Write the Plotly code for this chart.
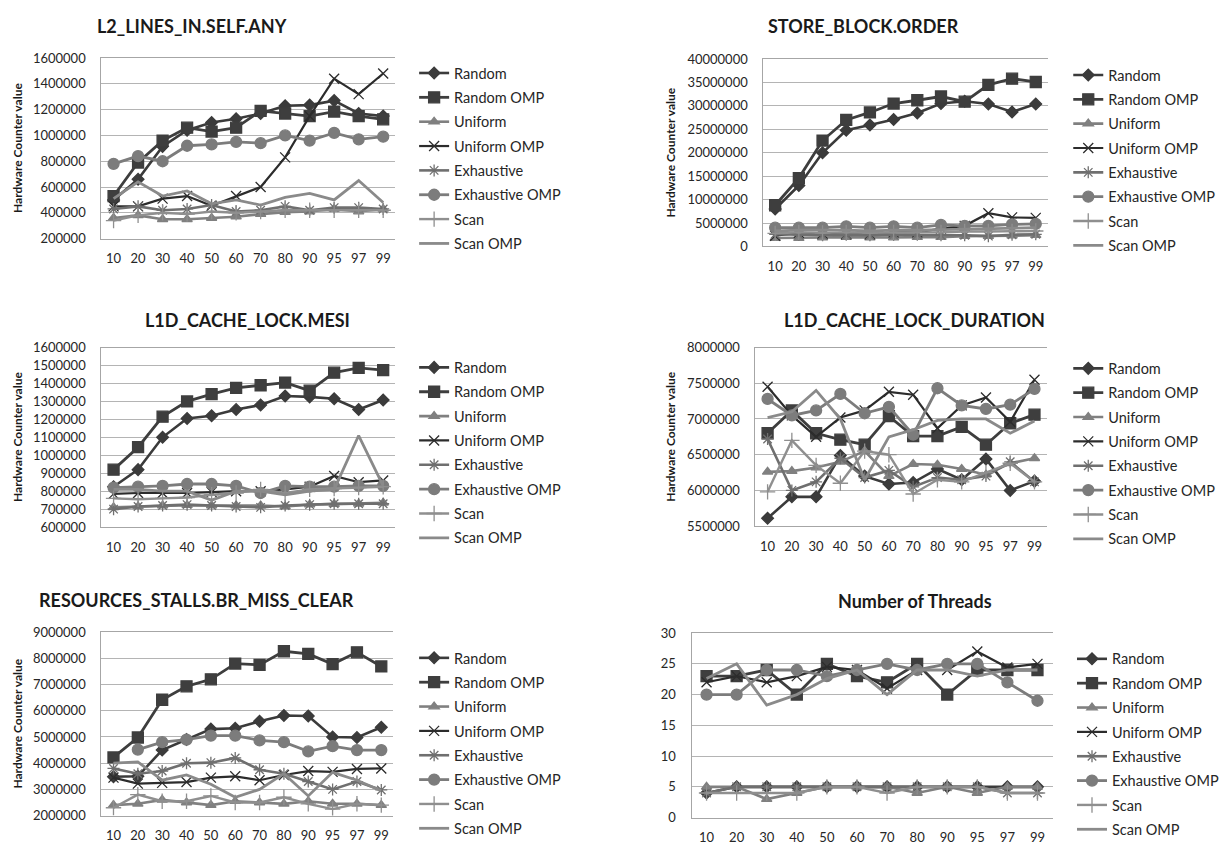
import plotly.graph_objects as go

# ---------------------------------------------------------------- data
steps = ["10", "20", "30", "40", "50", "60", "70", "80", "90", "95", "97", "99"]
series_names = ["Random", "Random OMP", "Uniform", "Uniform OMP",
                "Exhaustive", "Exhaustive OMP", "Scan", "Scan OMP"]

# L2_LINES_IN.SELF.ANY
l2_random = [500000, 660000, 915000, 1040000, 1100000, 1130000, 1170000, 1230000, 1235000, 1270000, 1170000, 1150000]
l2_random_omp = [530000, 790000, 960000, 1060000, 1030000, 1060000, 1190000, 1170000, 1150000, 1185000, 1150000, 1125000]
l2_uniform = [360000, 380000, 350000, 350000, 360000, 370000, 390000, 405000, 410000, 430000, 410000, 430000]
l2_uniform_omp = [450000, 450000, 510000, 530000, 455000, 530000, 600000, 830000, 1150000, 1440000, 1320000, 1480000]
l2_exhaustive = [430000, 450000, 420000, 430000, 460000, 410000, 420000, 450000, 420000, 440000, 440000, 430000]
l2_exhaustive_omp = [780000, 840000, 800000, 920000, 930000, 950000, 940000, 1000000, 960000, 1020000, 970000, 990000]
l2_scan = [340000, 380000, 400000, 390000, 410000, 400000, 410000, 420000, 420000, 420000, 420000, 420000]
l2_scan_omp = [510000, 640000, 530000, 570000, 470000, 500000, 460000, 520000, 550000, 500000, 650000, 480000]

# STORE_BLOCK.ORDER
sb_random = [8000000, 13000000, 20000000, 24800000, 25900000, 27100000, 28500000, 30500000, 31000000, 30400000, 28700000, 30400000]
sb_random_omp = [8800000, 14600000, 22600000, 27000000, 28600000, 30500000, 31200000, 32000000, 30900000, 34500000, 35800000, 35100000]
sb_uniform = [1800000, 1800000, 1900000, 2000000, 1900000, 1900000, 2000000, 2000000, 2200000, 2200000, 2300000, 2400000]
sb_uniform_omp = [2300000, 2900000, 2700000, 2600000, 2600000, 3000000, 3000000, 3800000, 4400000, 7100000, 6200000, 6100000]
sb_exhaustive = [2600000, 2500000, 2400000, 2500000, 2400000, 2500000, 2500000, 2400000, 2400000, 2200000, 2500000, 2600000]
sb_exhaustive_omp = [4000000, 4000000, 4000000, 4300000, 4000000, 4300000, 4000000, 4600000, 4400000, 4400000, 4700000, 4800000]
sb_scan = [2800000, 3000000, 2900000, 3000000, 2900000, 3000000, 3000000, 3000000, 3200000, 3200000, 3200000, 3300000]
sb_scan_omp = [3300000, 3500000, 3500000, 3500000, 3300000, 3500000, 3500000, 3600000, 3600000, 3800000, 3900000, 4000000]

# L1D_CACHE_LOCK.MESI
mesi_random = [825000, 920000, 1100000, 1205000, 1220000, 1255000, 1280000, 1330000, 1325000, 1315000, 1255000, 1308000]
mesi_random_omp = [920000, 1045000, 1215000, 1300000, 1340000, 1375000, 1390000, 1405000, 1360000, 1460000, 1487000, 1474000]
mesi_uniform = [710000, 715000, 720000, 722000, 720000, 720000, 720000, 715000, 725000, 728000, 730000, 735000]
mesi_uniform_omp = [785000, 790000, 790000, 790000, 795000, 800000, 800000, 810000, 825000, 885000, 850000, 860000]
mesi_exhaustive = [700000, 715000, 720000, 725000, 720000, 715000, 710000, 720000, 725000, 730000, 730000, 730000]
mesi_exhaustive_omp = [820000, 825000, 830000, 840000, 840000, 830000, 790000, 830000, 825000, 825000, 830000, 830000]
mesi_scan = [760000, 755000, 760000, 765000, 780000, 790000, 810000, 790000, 810000, 815000, 820000, 825000]
mesi_scan_omp = [810000, 810000, 800000, 800000, 750000, 800000, 800000, 780000, 800000, 810000, 1110000, 830000]

# L1D_CACHE_LOCK_DURATION
dur_random = [5610000, 5910000, 5910000, 6490000, 6200000, 6090000, 6110000, 6300000, 6150000, 6440000, 6000000, 6130000]
dur_random_omp = [6800000, 7120000, 6800000, 6710000, 6640000, 7040000, 6760000, 6760000, 6890000, 6640000, 6940000, 7060000]
dur_uniform = [6260000, 6270000, 6320000, 6400000, 6550000, 6200000, 6370000, 6360000, 6300000, 6220000, 6380000, 6450000]
dur_uniform_omp = [7450000, 7050000, 6750000, 7020000, 7120000, 7380000, 7340000, 6870000, 7190000, 7300000, 6960000, 7550000]
dur_exhaustive = [6720000, 6000000, 6120000, 6450000, 6180000, 6280000, 6050000, 6180000, 6150000, 6200000, 6400000, 6120000]
dur_exhaustive_omp = [7280000, 7050000, 7120000, 7350000, 7080000, 7170000, 6780000, 7430000, 7190000, 7140000, 7200000, 7420000]
dur_scan = [5980000, 6700000, 6350000, 6100000, 6550000, 6500000, 5950000, 6150000, 6120000, 6250000, 6380000, 6120000]
dur_scan_omp = [7020000, 7100000, 7400000, 7000000, 6150000, 6750000, 6850000, 6980000, 7000000, 7000000, 6800000, 6970000]

# RESOURCES_STALLS.BR_MISS_CLEAR
br_random = [3480000, 3500000, 4500000, 4900000, 5300000, 5330000, 5600000, 5820000, 5800000, 5000000, 4980000, 5370000]
br_random_omp = [4220000, 4980000, 6420000, 6930000, 7200000, 7800000, 7750000, 8270000, 8170000, 7780000, 8230000, 7690000]
br_uniform = [2400000, 2450000, 2600000, 2500000, 2400000, 2550000, 2500000, 2450000, 2550000, 2450000, 2450000, 2400000]
br_uniform_omp = [3450000, 3220000, 3250000, 3280000, 3450000, 3500000, 3350000, 3550000, 3700000, 3670000, 3780000, 3800000]
br_exhaustive = [3800000, 3600000, 3700000, 4000000, 4020000, 4200000, 3750000, 3600000, 3300000, 3000000, 3300000, 2980000]
br_exhaustive_omp = [None, 4520000, 4800000, 4900000, 5050000, 5050000, 4870000, 4800000, 4450000, 4650000, 4500000, 4500000]
br_scan = [2300000, 2800000, 2550000, 2550000, 2750000, 2500000, 2500000, 2700000, 2450000, 2250000, 2450000, 2400000]
br_scan_omp = [4000000, 4050000, 3350000, 3550000, 3200000, 2700000, 3000000, 3600000, 2750000, 3650000, 3350000, 2950000]

# Number of Threads
thr_random = [4, 5, 5, 5, 5, 5, 5, 5, 5, 5, 5, 5]
thr_random_omp = [23, 23, 24, 20, 25, 23, 22, 25, 20, 24, 24, 24]
thr_uniform = [5, 5, 3, 4, 5, 5, 5, 4, 5, 4, 5, 5]
thr_uniform_omp = [22, 23, 22, 23, 24.5, 24, 21, 24, 24, 27, 24.4, 25]
thr_exhaustive = [4, 5, 5, 5, 5, 5, 5, 5, 5, 5, 4, 4]
thr_exhaustive_omp = [20, 20, 24, 24, 23, 24, 25, 24, 25, 25, 22, 19]
thr_scan = [4, 4, 4, 4, 5, 5, 4, 5, 5, 5, 4, 4]
thr_scan_omp = [22.6, 25, 18.3, 20, 22.6, 24, 20, 24, 24, 23, 24, 24]

# ---------------------------------------------------------------- styling
W, H = 1224, 856
FONT = "Lato, 'Open Sans', sans-serif"

series_style = {
    "Random":         dict(color="#3b3b3b", symbol="diamond",         size=9,  width=2.6),
    "Random OMP":     dict(color="#3e3e3e", symbol="square",          size=11, width=2.8),
    "Uniform":        dict(color="#808080", symbol="triangle-up",     size=9,  width=2.6),
    "Uniform OMP":    dict(color="#2c2c2c", symbol="x-thin-open",     size=10, width=2.2),
    "Exhaustive":     dict(color="#6f6f6f", symbol="asterisk-open",   size=10, width=2.6),
    "Exhaustive OMP": dict(color="#7c7c7c", symbol="circle",          size=11, width=2.8),
    "Scan":           dict(color="#8f8f8f", symbol="cross-thin-open", size=11, width=2.4),
    "Scan OMP":       dict(color="#8a8a8a", symbol=None,              size=0,  width=2.8),
}

panels = [
    dict(title="L2_LINES_IN.SELF.ANY",
         data=[l2_random, l2_random_omp, l2_uniform, l2_uniform_omp,
               l2_exhaustive, l2_exhaustive_omp, l2_scan, l2_scan_omp],
         yrange=(200000, 1600000), dtick=200000,
         box=(103, 402, 51, 235), title_xy=(195, 18), ytitle_x=18,
         legend_xy=(421, 50)),
    dict(title="STORE_BLOCK.ORDER",
         data=[sb_random, sb_random_omp, sb_uniform, sb_uniform_omp,
               sb_exhaustive, sb_exhaustive_omp, sb_scan, sb_scan_omp],
         yrange=(0, 40000000), dtick=5000000,
         box=(776, 1065, 52, 243), title_xy=(878, 18), ytitle_x=682,
         legend_xy=(1086, 52)),
    dict(title="L1D_CACHE_LOCK.MESI",
         data=[mesi_random, mesi_random_omp, mesi_uniform, mesi_uniform_omp,
               mesi_exhaustive, mesi_exhaustive_omp, mesi_scan, mesi_scan_omp],
         yrange=(600000, 1600000), dtick=100000,
         box=(103, 402, 346, 529), title_xy=(252, 318), ytitle_x=18,
         legend_xy=(421, 350)),
    dict(title="L1D_CACHE_LOCK_DURATION",
         data=[dur_random, dur_random_omp, dur_uniform, dur_uniform_omp,
               dur_exhaustive, dur_exhaustive_omp, dur_scan, dur_scan_omp],
         yrange=(5500000, 8000000), dtick=500000,
         box=(768, 1064, 346, 528), title_xy=(930, 318), ytitle_x=682,
         legend_xy=(1086, 351)),
    dict(title="RESOURCES_STALLS.BR_MISS_CLEAR",
         data=[br_random, br_random_omp, br_uniform, br_uniform_omp,
               br_exhaustive, br_exhaustive_omp, br_scan, br_scan_omp],
         yrange=(2000000, 9000000), dtick=1000000,
         box=(103, 400, 636, 823), title_xy=(200, 603), ytitle_x=18,
         legend_xy=(421, 646)),
    dict(title="Number of Threads",
         data=[thr_random, thr_random_omp, thr_uniform, thr_uniform_omp,
               thr_exhaustive, thr_exhaustive_omp, thr_scan, thr_scan_omp],
         yrange=(0, 30), dtick=5,
         box=(703, 1070, 637, 825), title_xy=(930, 604), ytitle_x=None,
         legend_xy=(1090, 647)),
]

fig = go.Figure()
annotations = []

for i, p in enumerate(panels, start=1):
    sfx = "" if i == 1 else str(i)
    legend_id = "legend" if i == 1 else f"legend{i}"
    for name, values in zip(series_names, p["data"]):
        st = series_style[name]
        if st["symbol"] is None:
            mode = "lines"
            marker = dict()
        else:
            mode = "lines+markers"
            marker = dict(symbol=st["symbol"], size=st["size"], color=st["color"],
                          line=dict(color=st["color"], width=1.3))
        fig.add_trace(go.Scatter(
            x=steps, y=values, name=name, mode=mode,
            line=dict(color=st["color"], width=st["width"]),
            marker=marker,
            xaxis=f"x{sfx}", yaxis=f"y{sfx}",
            legend=legend_id, legendgroup=f"{i}-{name}",
            connectgaps=False,
        ))

    x0, x1, y0, y1 = p["box"]
    fig.update_layout({
        f"xaxis{sfx}": dict(
            domain=[x0 / W, x1 / W], anchor=f"y{sfx}", type="category",
            range=[-0.5, len(steps) - 0.5], showgrid=False,
            showline=True, linecolor="#a6a6a6", linewidth=1, mirror=True,
            ticks="", ticklabelstandoff=8,
            tickfont=dict(family=FONT, size=13, color="#262626"),
        ),
        f"yaxis{sfx}": dict(
            domain=[1 - y1 / H, 1 - y0 / H], anchor=f"x{sfx}",
            range=list(p["yrange"]), dtick=p["dtick"], tick0=p["yrange"][0],
            tickformat="d", showgrid=True, gridcolor="#b4b4b4", gridwidth=1,
            zeroline=False, showline=True, linecolor="#a6a6a6", linewidth=1,
            ticks="", ticklabelstandoff=12,
            tickfont=dict(family=FONT, size=13, color="#262626"),
        ),
        legend_id: dict(
            x=p["legend_xy"][0] / W, y=1 - p["legend_xy"][1] / H,
            xanchor="left", yanchor="top", bgcolor="rgba(0,0,0,0)",
            font=dict(family=FONT, size=14.5, color="#262626"),
            tracegroupgap=2.5, itemwidth=30, traceorder="grouped",
        ),
    })

    tx, ty = p["title_xy"]
    annotations.append(dict(
        text=f"<b>{p['title']}</b>", x=tx / W, y=1 - ty / H,
        xref="paper", yref="paper", showarrow=False,
        xanchor="center", yanchor="middle",
        font=dict(family=FONT, size=18, color="#1a1a1a"),
    ))
    if p["ytitle_x"] is not None:
        annotations.append(dict(
            text="<b>Hardware Counter value</b>",
            x=p["ytitle_x"] / W, y=1 - ((y0 + y1) / 2) / H,
            xref="paper", yref="paper", showarrow=False, textangle=-90,
            xanchor="center", yanchor="middle",
            font=dict(family=FONT, size=12, color="#1a1a1a"),
        ))

fig.update_layout(
    width=W, height=H, margin=dict(l=0, r=0, t=0, b=0),
    paper_bgcolor="white", plot_bgcolor="white",
    annotations=annotations, showlegend=True,
)

fig.write_html("out.html")
